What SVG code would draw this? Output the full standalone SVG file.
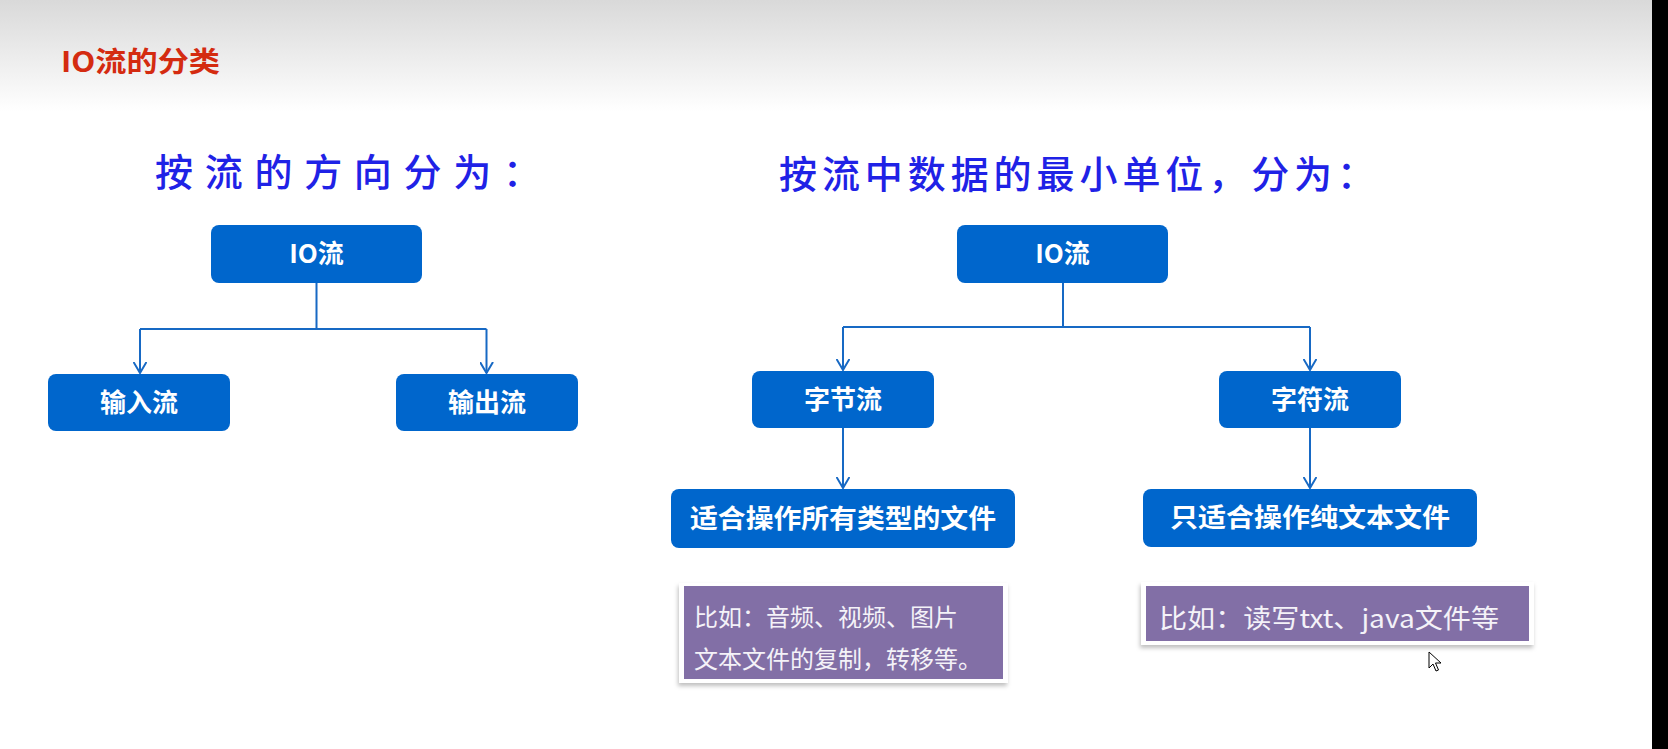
<svg xmlns="http://www.w3.org/2000/svg" width="1668" height="749" viewBox="0 0 1668 749">
<style>
.node rect{fill:#0066cc;}
.node text{fill:#ffffff;font-family:"Noto Sans CJK SC",sans-serif;font-weight:700;font-size:26px;text-anchor:middle;}
.head{fill:#1f22e6;font-family:"Noto Sans CJK SC",sans-serif;font-weight:500;font-size:38px;}
.note text{fill:#f4f2f8;font-family:"Noto Sans CJK SC",sans-serif;font-weight:400;}
.note .bg{fill:#ffffff;filter:url(#sh);}
.note .pp{fill:#826fa6;}
#connectors path{fill:none;stroke:#1769c4;stroke-width:2;}
</style>
<defs>
<linearGradient id="hdr" x1="0" y1="0" x2="0" y2="1">
<stop offset="0" stop-color="#d9d9d9"/>
<stop offset="1" stop-color="#ffffff"/>
</linearGradient>
<filter id="sh" x="-5%" y="-10%" width="110%" height="130%">
<feDropShadow dx="-1" dy="3" stdDeviation="2" flood-color="#000" flood-opacity="0.25"/>
</filter>
<marker id="arr" viewBox="0 0 12 14" refX="11" refY="7" markerWidth="12" markerHeight="14" markerUnits="userSpaceOnUse" orient="auto">
<path d="M0,0.5 L11,7 L0,13.5" fill="none" stroke="#1769c4" stroke-width="2"/>
</marker>
</defs>
<rect x="0" y="0" width="1668" height="749" fill="#ffffff"/>
<rect x="0" y="0" width="1668" height="112" fill="url(#hdr)"/>
<rect x="1652" y="0" width="16" height="749" fill="#000000"/>

<text x="61" y="72" fill="#d42b10" font-family="Noto Sans CJK SC, sans-serif" font-weight="700" font-size="28" textLength="159" lengthAdjust="spacingAndGlyphs">IO流的分类</text>

<text class="head" x="155" y="186" textLength="386" lengthAdjust="spacing">按流的方向分为：</text>
<text class="head" x="779" y="188" textLength="596" lengthAdjust="spacing">按流中数据的最小单位，分为：</text>

<g id="connectors">
<path d="M316.5,283 V329 M140,329 H486.5"/>
<path d="M140,329 V373" marker-end="url(#arr)"/>
<path d="M486.5,329 V373" marker-end="url(#arr)"/>
<path d="M1063,283 V327 M843,327 H1310"/>
<path d="M843,327 V370" marker-end="url(#arr)"/>
<path d="M1310,327 V370" marker-end="url(#arr)"/>
<path d="M843,428 V488" marker-end="url(#arr)"/>
<path d="M1310,428 V488" marker-end="url(#arr)"/>
</g>

<g id="n-io-left" class="node"><rect x="211" y="225" width="211" height="58" rx="8"/><text x="316.5" y="263">IO流</text></g>
<g id="n-input" class="node"><rect x="48" y="374" width="182" height="57" rx="8"/><text x="139" y="412">输入流</text></g>
<g id="n-output" class="node"><rect x="396" y="374" width="182" height="57" rx="8"/><text x="487" y="412">输出流</text></g>

<g id="n-io-right" class="node"><rect x="957" y="225" width="211" height="58" rx="8"/><text x="1062.5" y="263">IO流</text></g>
<g id="n-byte" class="node"><rect x="752" y="371" width="182" height="57" rx="8"/><text x="843" y="409">字节流</text></g>
<g id="n-char" class="node"><rect x="1219" y="371" width="182" height="57" rx="8"/><text x="1310" y="409">字符流</text></g>
<g id="n-all" class="node"><rect x="671" y="489" width="344" height="59" rx="8"/><text x="843" y="528" textLength="306" lengthAdjust="spacingAndGlyphs">适合操作所有类型的文件</text></g>
<g id="n-txt" class="node"><rect x="1143" y="489" width="334" height="58" rx="8"/><text x="1310" y="527" textLength="280" lengthAdjust="spacingAndGlyphs">只适合操作纯文本文件</text></g>

<g id="note-byte" class="note">
<rect class="bg" x="679" y="583" width="329" height="100"/>
<rect class="pp" x="684" y="586" width="319" height="93"/>
<text x="694" y="626" font-size="24">比如：音频、视频、图片</text>
<text x="694" y="668" font-size="24">文本文件的复制，转移等。</text>
</g>
<g id="note-char" class="note">
<rect class="bg" x="1141" y="582" width="393" height="63"/>
<rect class="pp" x="1146" y="586" width="383" height="55"/>
<text x="1159" y="628" font-size="26" textLength="340" lengthAdjust="spacingAndGlyphs">比如：读写txt、java文件等</text>
</g>

<path d="M1429,652 L1429,668 L1433,664 L1436,671 L1438.5,670 L1435.5,663 L1441,663 Z" fill="#ffffff" stroke="#000000" stroke-width="1"/>
</svg>
